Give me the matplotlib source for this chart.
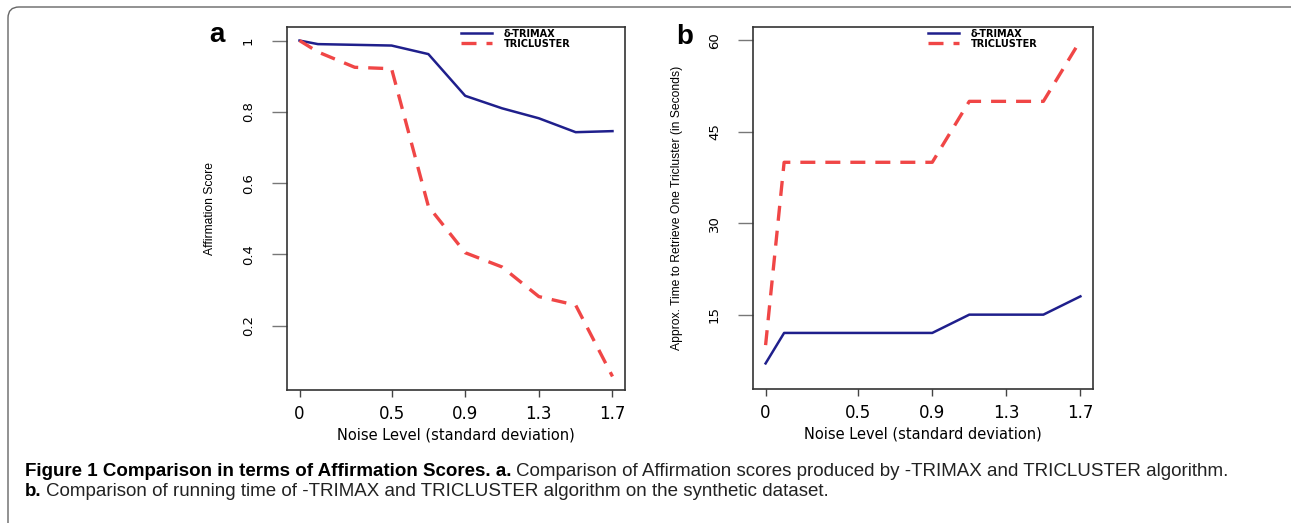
import numpy as np
import matplotlib.pyplot as plt
from matplotlib.patches import FancyBboxPatch

# noise levels (standard deviation)
noise = [0, 0.1, 0.3, 0.5, 0.7, 0.9, 1.1, 1.3, 1.5, 1.7]

# a: affirmation scores
aff_trimax = [1.0, 0.99, 0.988, 0.986, 0.962, 0.845, 0.81, 0.782, 0.743, 0.746]
aff_tricluster = [1.0, 0.968, 0.925, 0.921, 0.535, 0.405, 0.365, 0.282, 0.258, 0.058]

# b: time to retrieve one tricluster (seconds)
time_trimax = [7, 12, 12, 12, 12, 12, 15, 15, 15, 18]
time_tricluster = [10, 40, 40, 40, 40, 40, 50, 50, 50, 60]

xticks = [0, 0.5, 0.9, 1.3, 1.7]
xticklabels = ['0', '0.5', '0.9', '1.3', '1.7']
a_yticks = [0.2, 0.4, 0.6, 0.8, 1.0]
a_yticklabels = ['0.2', '0.4', '0.6', '0.8', '1']
b_yticks = [15, 30, 45, 60]
b_yticklabels = ['15', '30', '45', '60']

legend_labels = ['δ-TRIMAX', 'TRICLUSTER']

BLUE = '#1f1f8c'
RED = '#f04646'
W, H = 1291, 523

fig = plt.figure(figsize=(W / 100, H / 100), dpi=100)

# rounded outer frame of the figure panel
frame = FancyBboxPatch((8, -30), W + 20, H - 7 + 30, boxstyle='round,pad=0,rounding_size=11',
                       transform=None, fill=False, edgecolor='#666666', linewidth=1.0)
fig.patches.append(frame)


def px_axes(x0, y0, x1, y1):
    return fig.add_axes([x0 / W, 1 - y1 / H, (x1 - x0) / W, (y1 - y0) / H])


ax_a = px_axes(287, 27, 625, 390)
ax_b = px_axes(753, 27, 1093, 389)

for ax, y1, y2, yt, ytl, ylim in [
    (ax_a, aff_trimax, aff_tricluster, a_yticks, a_yticklabels, (0.020, 1.038)),
    (ax_b, time_trimax, time_tricluster, b_yticks, b_yticklabels, (2.8, 62.2)),
]:
    ax.plot(noise, y1, color=BLUE, lw=1.8, label=legend_labels[0])
    ax.plot(noise, y2, color=RED, lw=2.4, dashes=(4.5, 3), label=legend_labels[1])
    ax.set_xlim(-0.068, 1.768)
    ax.set_ylim(*ylim)
    ax.set_xticks(xticks)
    ax.set_xticklabels(xticklabels, fontsize=12, family='DejaVu Sans')
    ax.set_yticks(yt)
    ax.set_yticklabels(ytl, fontsize=9.5, rotation=90, va='center', family='DejaVu Sans')
    ax.tick_params(axis='x', length=5, width=1.0, color='#444444', pad=6)
    ax.tick_params(axis='y', length=11, width=1.0, color='#777777', pad=12)
    for s in ax.spines.values():
        s.set_color('#333333')
        s.set_linewidth(1.2)
    ax.set_xlabel('Noise Level (standard deviation)', fontsize=10.5, family='DejaVu Sans', labelpad=3)
    leg = ax.legend(loc='upper left', bbox_to_anchor=(0.515, 0.995), frameon=False,
                    prop={'family': 'DejaVu Sans', 'weight': 'bold', 'size': 7},
                    handlelength=3.2, handletextpad=1.2, labelspacing=0.0, borderpad=0, borderaxespad=0)

narrow = ['Liberation Sans Narrow', 'Liberation Sans', 'DejaVu Sans']
ax_a.set_ylabel('Affirmation Score', fontsize=8.7, family=narrow, labelpad=19)
ax_b.set_ylabel('Approx. Time to Retrieve One Tricluster (in Seconds)', fontsize=8.7, family=narrow,
                labelpad=18)

fig.text(217 / W, 1 - 35 / H, 'a', fontsize=20, fontweight='bold', family='Liberation Sans', ha='center', va='center')
fig.text(685 / W, 1 - 37 / H, 'b', fontsize=20, fontweight='bold', family='Liberation Sans', ha='center', va='center')

# caption, bold lead-in followed by regular text
cap_font = dict(family='Liberation Sans', fontsize=13.5)
renderer = fig.canvas.get_renderer()


def caption_line(y, bold, rest):
    t1 = fig.text(25 / W, 1 - y / H, bold, fontweight='bold', va='center', ha='left', **cap_font)
    bb = t1.get_window_extent(renderer)
    fig.text((bb.x1 + 4) / W, 1 - y / H, rest, va='center', ha='left', color='#222222', **cap_font)


caption_line(472, 'Figure 1 Comparison in terms of Affirmation Scores. a.',
             'Comparison of Affirmation scores produced by -TRIMAX and TRICLUSTER algorithm.')
caption_line(492, 'b.', 'Comparison of running time of -TRIMAX and TRICLUSTER algorithm on the synthetic dataset.')

fig.savefig('out.png', dpi=100)
